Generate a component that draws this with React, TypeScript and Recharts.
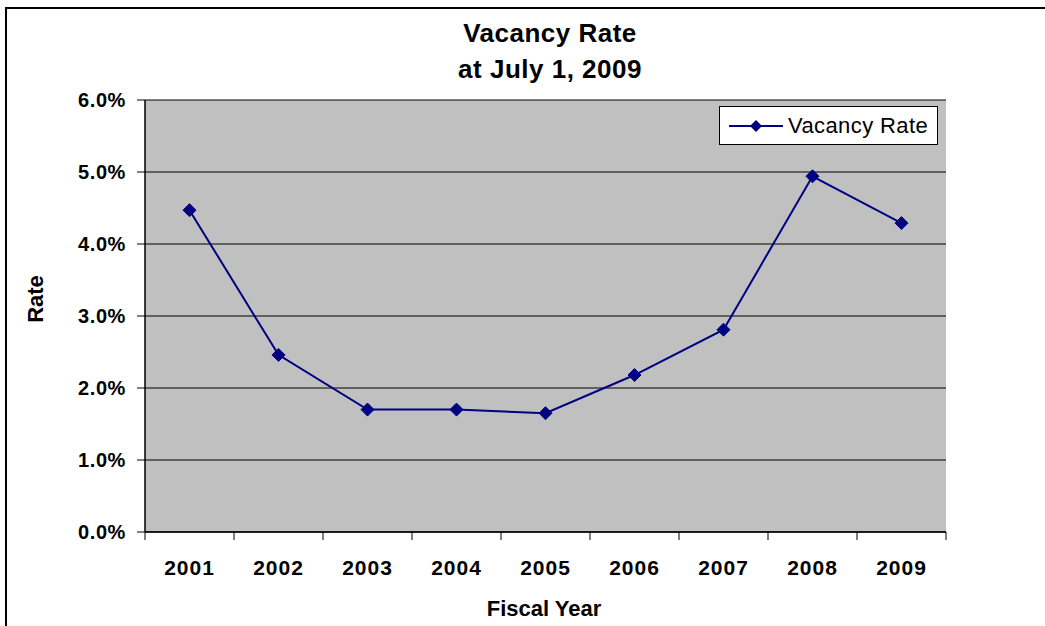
import React from 'react'
import {
    LineChart, Line, XAxis, YAxis, CartesianGrid, Legend
} from 'recharts'

// fiscal years and vacancy rate (%)
const years = ['2001', '2002', '2003', '2004', '2005', '2006', '2007', '2008', '2009']
const vacancyRate = [4.47, 2.46, 1.70, 1.70, 1.65, 2.18, 2.81, 4.94, 4.29]
const rateTicks = [0, 1, 2, 3, 4, 5, 6]

const chartData = years.map((year, i) => ({ year, rate: vacancyRate[i] }))

const FONT = '"Liberation Sans", Arial, sans-serif'
const NAVY = '#000080'
const X_TICK_SIZE = 8
const X_TICK_MARGIN = 20

function Diamond(props: any) {
    const { cx, cy, index } = props
    if (cx == null || cy == null) return null
    const r = 6.5
    return (
        <path
            key={`d-${index}`}
            d={`M${cx},${cy - r}L${cx + r},${cy}L${cx},${cy + r}L${cx - r},${cy}Z`}
            fill={NAVY}
            stroke={NAVY}
        />
    )
}

// Excel style: year label centred in its slot, tick marks on slot boundaries
function YearTick(props: any) {
    const { x, y, payload, index, visibleTicksCount } = props
    const half = payload?.offset ?? 0
    const axisY = y - X_TICK_SIZE - X_TICK_MARGIN
    const last = index === (visibleTicksCount ?? years.length) - 1
    return (
        <g>
            <line x1={x - half} y1={axisY} x2={x - half} y2={axisY + X_TICK_SIZE} stroke="#000" />
            {last && <line x1={x + half} y1={axisY} x2={x + half} y2={axisY + X_TICK_SIZE} stroke="#000" />}
            <text x={x} y={y} dy="0.71em" textAnchor="middle" fill="#000" fontSize={21} fontWeight={700} letterSpacing={1}>
                {payload.value}
            </text>
        </g>
    )
}

function LegendBox() {
    return (
        <div style={{
            boxSizing: 'border-box', width: 219, height: 39, background: '#fff',
            border: '1px solid #000', display: 'flex', alignItems: 'center',
            fontFamily: FONT, fontSize: 22, color: '#000', letterSpacing: 0.4
        }}>
            <svg width={66} height={37} style={{ flex: 'none' }}>
                <line x1={9} y1={19} x2={63} y2={19} stroke={NAVY} strokeWidth={2} />
                <path d="M36,13L42,19L36,25L30,19Z" fill={NAVY} />
            </svg>
            <span style={{ marginLeft: 2, whiteSpace: 'nowrap' }}>Vacancy Rate</span>
        </div>
    )
}

export default function App() {
    return (
        <div style={{ position: 'absolute', left: 0, top: 0, width: 1045, height: 626, overflow: 'hidden', background: '#fff' }}>
            <div style={{
                position: 'absolute', left: 5, top: 7, width: 1200, height: 800,
                borderLeft: '2px solid #000', borderTop: '2px solid #000'
            }} />

            <LineChart
                width={1045}
                height={626}
                data={chartData}
                margin={{ top: 100, right: 99, left: 0, bottom: 34 }}
                style={{ position: 'absolute', left: 0, top: 0, fontFamily: FONT }}
            >
                <CartesianGrid vertical={false} stroke="#000" strokeOpacity={1} fill="#c0c0c0" fillOpacity={1} />
                <XAxis
                    dataKey="year"
                    scale="band"
                    tickLine={false}
                    tickSize={X_TICK_SIZE}
                    tickMargin={X_TICK_MARGIN}
                    axisLine={{ stroke: '#000', strokeWidth: 1.5 }}
                    tick={<YearTick />}
                    height={60}
                    interval={0}
                />
                <YAxis
                    domain={[0, 6]}
                    ticks={rateTicks}
                    tickFormatter={(v: number) => `${v.toFixed(1)}%`}
                    width={145}
                    tickSize={8}
                    tickMargin={11}
                    tickLine={{ stroke: '#000' }}
                    axisLine={{ stroke: '#000', strokeWidth: 1.5 }}
                    tick={{ fill: '#000', fontSize: 20, fontWeight: 700, letterSpacing: 0.6 }}
                />
                <YAxis
                    yAxisId="edge"
                    orientation="right"
                    domain={[0, 6]}
                    width={0}
                    tick={false}
                    tickLine={false}
                    axisLine={{ stroke: '#808080', strokeWidth: 1.5 }}
                />
                <Legend
                    layout="horizontal"
                    verticalAlign="middle"
                    align="center"
                    wrapperStyle={{ left: 719, top: 106, width: 219, height: 39 }}
                    content={() => <LegendBox />}
                />
                <Line
                    dataKey="rate"
                    name="Vacancy Rate"
                    stroke={NAVY}
                    strokeWidth={2}
                    dot={<Diamond />}
                    activeDot={false}
                    isAnimationActive={false}
                />
            </LineChart>

            <svg width={1045} height={626} style={{ position: 'absolute', left: 0, top: 0, pointerEvents: 'none', fontFamily: FONT }}>
                <text x={550} y={42} textAnchor="middle" fontSize={26} fontWeight={700} letterSpacing={0.5}>Vacancy Rate</text>
                <text x={550} y={78} textAnchor="middle" fontSize={26} fontWeight={700} letterSpacing={0.5}>at July 1, 2009</text>
                <text x={544} y={616} textAnchor="middle" fontSize={22} fontWeight={700}>Fiscal Year</text>
                <text transform="translate(43,299) rotate(-90)" textAnchor="middle" fontSize={22} fontWeight={700}>Rate</text>
            </svg>
        </div>
    )
}
